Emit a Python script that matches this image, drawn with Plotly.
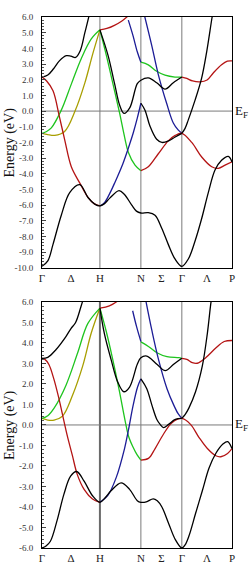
import plotly.graph_objects as go

# ---------------- k-path (bcc, units of 2*pi/a) ----------------
K_NODES = [0.0, 1.0, 1.7071, 2.4142, 3.2802]
K_LABEL_POS = [0.0, 0.5, 1.0, 1.7071, 2.0607, 2.4142, 2.8472, 3.2802]
K_LABELS = ["Γ", "Δ", "H", "N", "Σ", "Γ", "Λ", "P"]
TOP_YTICKS = [6, 5, 4, 3, 2, 1, 0, -1, -2, -3, -4, -5, -6, -7, -8, -9, -10]
BOT_YTICKS = [6, 5, 4, 3, 2, 1, 0, -1, -2, -3, -4, -5, -6]

# ---------------- top panel bands ----------------
T_BLK_LOW_K = [0.0, 0.1, 0.19, 0.333, 0.478, 0.651, 0.794, 0.91, 1.0, 1.08, 1.17, 1.33, 1.42, 1.55, 1.63, 1.707,
               1.835, 1.951, 2.067, 2.18, 2.296, 2.414, 2.526, 2.641, 2.757, 2.871, 2.987, 3.1, 3.217, 3.28]
T_BLK_LOW_E = [-9.9, -9.55, -8.5, -6.64, -5.2, -4.69, -5.51, -5.93, -6.05, -5.9, -5.55, -5.07, -5.3, -6.0, -6.38, -6.5,
               -6.48, -6.64, -7.47, -8.5, -9.43, -9.9, -9.43, -8.3, -6.85, -5.2, -3.76, -3.14, -2.89, -3.24]

T_RED_A_K = [0.0, 0.08, 0.19, 0.30, 0.39, 0.506, 0.651, 0.794, 0.9, 1.0]
T_RED_A_E = [2.17, 1.92, 1.3, -0.35, -1.8, -3.55, -4.58, -5.5, -5.9, -6.05]
T_RED_B_K = [1.707, 1.835, 2.008, 2.18, 2.3, 2.414, 2.585, 2.757, 2.93, 3.044, 3.16, 3.28]
T_RED_B_E = [-3.8, -3.55, -2.72, -1.9, -1.55, -1.42, -2.0, -2.93, -3.55, -3.65, -3.45, -3.24]
T_RED_C_K = [1.0, 1.12, 1.25, 1.38, 1.49]
T_RED_C_E = [5.18, 5.27, 5.47, 5.75, 6.08]
T_RED_D_K = [2.414, 2.5, 2.6, 2.728, 2.85, 2.957, 3.1, 3.2, 3.28]
T_RED_D_E = [2.17, 2.08, 1.92, 1.86, 1.98, 2.43, 2.95, 3.18, 3.2]

T_GRN_A_K = [0.0, 0.07, 0.161, 0.333, 0.506, 0.679, 0.851, 1.0, None,
             1.0, 1.11, 1.226, 1.341, 1.428, 1.49, 1.606, 1.707]
T_GRN_A_E = [-1.42, -1.32, -1.07, 0.06, 1.72, 3.36, 4.6, 5.18, None,
             5.18, 3.57, 1.72, -0.15, -1.69, -2.62, -3.45, -3.8]
T_GRN_B_K = [1.707, 1.835, 1.98, 2.124, 2.296, 2.414]
T_GRN_B_E = [3.12, 2.95, 2.54, 2.29, 2.17, 2.17]

T_YEL_K = [0.0, 0.1, 0.22, 0.39, 0.57, 0.74, 0.88, 1.0]
T_YEL_E = [-1.42, -1.5, -1.55, -1.3, 0.0, 1.8, 3.7, 5.18]

T_BLK_UP1_K = [0.0, 0.1, 0.2, 0.3, 0.42, 0.5, 0.58, 0.66, 0.74, 0.81, 0.84]
T_BLK_UP1_E = [2.17, 2.3, 2.7, 3.2, 3.53, 3.5, 3.42, 3.85, 5.0, 6.05, 6.6]
T_BLK_UP2_K = [1.0, 1.139, 1.255, 1.341, 1.416, 1.514, 1.645, 1.707, 1.835, 1.98, 2.124, 2.267, 2.414]
T_BLK_UP2_E = [5.18, 3.57, 1.72, 0.37, -0.15, 0.2, 1.75, 1.97, 2.12, 1.81, 1.4, 1.81, 2.17]
T_BLK_MID_K = [1.707, 1.778, 1.865, 1.98, 2.07, 2.186, 2.3, 2.414]
T_BLK_MID_E = [0.5, 0.06, -0.97, -1.8, -2.0, -1.9, -1.65, -1.42]
T_BLK_STEEP_K = [2.414, 2.47, 2.526, 2.641, 2.757, 2.843, 2.93, 2.96]
T_BLK_STEEP_E = [-1.42, -1.1, -0.56, 0.68, 2.12, 3.78, 5.84, 6.5]

T_BLU_A_K = [1.0, 1.083, 1.17, 1.255, 1.398, 1.514, 1.576, 1.645, 1.707]
T_BLU_A_E = [-6.05, -5.82, -5.25, -4.58, -3.34, -2.1, -1.38, -0.45, 0.5]
T_BLU_B_K = [1.49, 1.571, 1.645, 1.707]
T_BLU_B_E = [5.8, 4.81, 3.78, 3.12]
T_BLU_C_K = [1.772, 1.894, 2.008, 2.153, 2.267, 2.35, 2.414]
T_BLU_C_E = [6.05, 4.19, 2.33, 0.48, -0.76, -1.2, -1.42]

# ---------------- bottom panel bands ----------------
B_BLK_LOW_K = [0.0, 0.07, 0.145, 0.262, 0.379, 0.494, 0.598, 0.727, 0.872, 1.0, 1.09, 1.192, 1.366, 1.512, 1.645,
               1.707, 1.8, 1.92, 1.99, 2.07, 2.186, 2.302, 2.414, 2.47, 2.535, 2.651, 2.768, 2.884, 3.0, 3.128,
               3.204, 3.28]
B_BLK_LOW_E = [-6.0, -5.9, -5.67, -4.64, -3.37, -2.5, -2.27, -2.74, -3.45, -3.77, -3.55, -3.21, -2.82, -3.14, -3.69,
               -3.77, -3.75, -3.6, -3.7, -4.0, -4.8, -5.59, -6.0, -5.85, -5.43, -4.32, -3.21, -2.1, -1.39, -0.92,
               -0.81, -1.15]

B_RED_A_K = [0.0, 0.05, 0.117, 0.204, 0.291, 0.379, 0.436, 0.523, 0.61, 0.727, 0.872, 1.0]
B_RED_A_E = [3.25, 3.2, 2.96, 2.25, 1.3, 0.19, -0.52, -1.47, -2.42, -3.14, -3.61, -3.77]
B_RED_B_K = [1.707, 1.837, 1.953, 2.099, 2.244, 2.414, 2.564, 2.709, 2.855, 3.0, 3.088, 3.204, 3.28]
B_RED_B_E = [-1.71, -1.63, -1.15, -0.44, 0.11, 0.32, 0.03, -0.6, -1.15, -1.5, -1.55, -1.39, -1.15]
B_RED_C_K = [1.0, 1.163, 1.308, 1.4]
B_RED_C_E = [5.7, 5.81, 6.05, 6.3]
B_RED_D_K = [2.414, 2.5, 2.594, 2.68, 2.826, 3.0, 3.145, 3.28]
B_RED_D_E = [3.25, 3.2, 3.04, 3.01, 3.28, 3.75, 4.07, 4.12]

B_GRN_A_K = [0.0, 0.1, 0.209, 0.413, 0.616, 0.79, 1.0, None,
             1.0, 1.104, 1.221, 1.338, 1.436, 1.5, 1.575, 1.64, 1.707]
B_GRN_A_E = [0.32, 0.45, 0.82, 1.93, 3.52, 4.94, 5.7, None,
             5.7, 4.62, 3.2, 1.62, 0.19, -0.6, -1.1, -1.45, -1.71]
B_GRN_B_K = [1.707, 1.837, 1.983, 2.158, 2.36, 2.414]
B_GRN_B_E = [4.05, 3.83, 3.52, 3.33, 3.28, 3.25]

B_YEL_K = [0.0, 0.1, 0.209, 0.354, 0.529, 0.703, 0.849, 1.0]
B_YEL_E = [0.32, 0.24, 0.24, 0.43, 1.46, 2.88, 4.47, 5.7]

B_BLK_UP1_K = [0.0, 0.1, 0.24, 0.413, 0.5, 0.58, 0.668, 0.71, 0.74]
B_BLK_UP1_E = [3.25, 3.3, 3.67, 4.31, 4.7, 5.0, 5.73, 6.13, 6.5]
B_BLK_UP2_K = [1.0, 1.076, 1.192, 1.308, 1.413, 1.512, 1.645, 1.707, 1.809, 1.983, 2.128, 2.273, 2.414]
B_BLK_UP2_E = [5.7, 4.47, 3.2, 2.09, 1.62, 1.85, 2.96, 3.28, 3.36, 2.96, 2.65, 2.96, 3.25]
B_BLK_MID_K = [1.707, 1.809, 1.896, 1.983, 2.04, 2.099, 2.186, 2.302, 2.414]
B_BLK_MID_E = [2.25, 1.77, 0.98, 0.27, 0.03, -0.13, 0.03, 0.27, 0.32]
B_BLK_STEEP_K = [2.414, 2.47, 2.535, 2.651, 2.768, 2.855, 2.913, 2.94]
B_BLK_STEEP_E = [0.32, 0.5, 0.82, 1.62, 2.88, 4.47, 5.89, 6.4]

B_BLU_A_K = [1.0, 1.134, 1.279, 1.425, 1.49, 1.575, 1.65, 1.707]
B_BLU_A_E = [-3.77, -3.45, -2.58, -1.15, -0.28, 0.98, 1.85, 2.25]
B_BLU_B_K = [1.565, 1.634, 1.707]
B_BLU_B_E = [5.57, 4.78, 4.07]
B_BLU_C_K = [1.79, 1.896, 2.011, 2.158, 2.273, 2.35, 2.414]
B_BLU_C_E = [6.1, 4.62, 3.2, 1.77, 0.98, 0.55, 0.32]

# ---------------- styling ----------------
BLACK = "#000000"
RED = "#b41414"
GREEN = "#1ec41e"
BLUE = "#1c1c96"
YEL = "#a89e00"
SERIF = "Liberation Serif"
LW = 1.3

TOP_BANDS = [
    (T_YEL_K, T_YEL_E, YEL), (T_GRN_A_K, T_GRN_A_E, GREEN), (T_GRN_B_K, T_GRN_B_E, GREEN),
    (T_BLU_A_K, T_BLU_A_E, BLUE), (T_BLU_B_K, T_BLU_B_E, BLUE), (T_BLU_C_K, T_BLU_C_E, BLUE),
    (T_RED_A_K, T_RED_A_E, RED), (T_RED_B_K, T_RED_B_E, RED), (T_RED_C_K, T_RED_C_E, RED),
    (T_RED_D_K, T_RED_D_E, RED),
    (T_BLK_LOW_K, T_BLK_LOW_E, BLACK), (T_BLK_UP1_K, T_BLK_UP1_E, BLACK), (T_BLK_UP2_K, T_BLK_UP2_E, BLACK),
    (T_BLK_MID_K, T_BLK_MID_E, BLACK), (T_BLK_STEEP_K, T_BLK_STEEP_E, BLACK),
]
BOT_BANDS = [
    (B_YEL_K, B_YEL_E, YEL), (B_GRN_A_K, B_GRN_A_E, GREEN), (B_GRN_B_K, B_GRN_B_E, GREEN),
    (B_BLU_A_K, B_BLU_A_E, BLUE), (B_BLU_B_K, B_BLU_B_E, BLUE), (B_BLU_C_K, B_BLU_C_E, BLUE),
    (B_RED_A_K, B_RED_A_E, RED), (B_RED_B_K, B_RED_B_E, RED), (B_RED_C_K, B_RED_C_E, RED),
    (B_RED_D_K, B_RED_D_E, RED),
    (B_BLK_LOW_K, B_BLK_LOW_E, BLACK), (B_BLK_UP1_K, B_BLK_UP1_E, BLACK), (B_BLK_UP2_K, B_BLK_UP2_E, BLACK),
    (B_BLK_MID_K, B_BLK_MID_E, BLACK), (B_BLK_STEEP_K, B_BLK_STEEP_E, BLACK),
]

fig = go.Figure()
for bands, xa, ya in ((TOP_BANDS, "x", "y"), (BOT_BANDS, "x2", "y2")):
    for k, e, c in bands:
        fig.add_trace(go.Scatter(x=k, y=e, mode="lines", xaxis=xa, yaxis=ya,
                                 line=dict(color=c, width=LW, shape="spline", smoothing=1.0),
                                 connectgaps=False, hoverinfo="skip", showlegend=False))

TOP_DOM = [0.5275, 1.0]
BOT_DOM = [0.0, 0.4634]


def xaxis_cfg(anchor):
    return dict(domain=[0, 1], anchor=anchor, range=[K_NODES[0], K_NODES[-1]],
                tickmode="array", tickvals=K_LABEL_POS, ticktext=K_LABELS, ticks="",
                showline=True, mirror=True, linecolor="black", linewidth=1,
                showgrid=False, zeroline=False,
                tickfont=dict(family=SERIF, size=11, color="#222"))


def yaxis_cfg(anchor, dom, ticks):
    return dict(domain=dom, anchor=anchor, range=[ticks[-1], ticks[0]],
                tickmode="array", tickvals=ticks, ticktext=[f"{v:.1f}" for v in ticks],
                ticks="inside", ticklen=4, tickcolor="#444", tickwidth=1,
                ticklabelstandoff=6,
                minor=dict(tickmode="linear", tick0=0, dtick=0.2, ticks="inside",
                           ticklen=2, tickcolor="#555", tickwidth=1, showgrid=False),
                showline=True, mirror=True, linecolor="black", linewidth=1,
                showgrid=False, zeroline=False,
                tickfont=dict(family=SERIF, size=9, color="#333"))


fig.update_layout(
    width=250, height=576,
    margin=dict(l=42, r=18, t=14, b=16),
    paper_bgcolor="white", plot_bgcolor="white",
    showlegend=False,
    xaxis=xaxis_cfg("y"), yaxis=yaxis_cfg("x", TOP_DOM, TOP_YTICKS),
    xaxis2=xaxis_cfg("y2"), yaxis2=yaxis_cfg("x2", BOT_DOM, BOT_YTICKS),
)

shapes = []
for xr, yr, hw in (("x", "y", 1), ("x2", "y2", 2)):
    for i, kn in enumerate(K_NODES[1:-1]):
        w = hw if i == 0 else 1
        shapes.append(dict(type="line", xref=xr, yref=yr + " domain", x0=kn, x1=kn, y0=0, y1=1,
                           line=dict(color="#7a7a7a" if w == 1 else "#6a6a6a", width=w), layer="below"))
    shapes.append(dict(type="line", xref=xr + " domain", yref=yr, x0=0, x1=1, y0=0, y1=0,
                       line=dict(color="#7a7a7a", width=1), layer="below"))
fig.update_layout(shapes=shapes)

annots = []
for yr, dom in (("y", TOP_DOM), ("y2", BOT_DOM)):
    annots.append(dict(text="E<sub>F</sub>", xref="paper", yref=yr, x=1.0, y=0, xanchor="left",
                       yanchor="middle", xshift=1, showarrow=False,
                       font=dict(family=SERIF, size=13, color="#111")))
    annots.append(dict(text="Energy (eV)", xref="paper", yref="paper", x=-0.168, y=(dom[0] + dom[1]) / 2,
                       xanchor="center", yanchor="middle", textangle=-90, showarrow=False,
                       font=dict(family=SERIF, size=14, color="#111")))
fig.update_layout(annotations=annots)

fig.write_html("out.html")
